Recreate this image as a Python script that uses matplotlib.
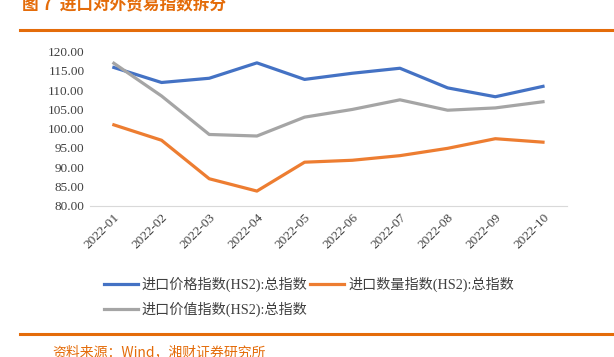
import matplotlib.pyplot as plt

months = ["2022-01", "2022-02", "2022-03", "2022-04", "2022-05",
          "2022-06", "2022-07", "2022-08", "2022-09", "2022-10"]
price_idx = [115.9, 112.0, 113.1, 117.1, 112.8, 114.4, 115.7, 110.6, 108.3, 111.0]
qty_idx = [101.0, 97.0, 87.0, 83.8, 91.3, 91.8, 93.0, 94.9, 97.4, 96.5]
value_idx = [117.0, 108.5, 98.5, 98.1, 103.0, 105.0, 107.5, 104.8, 105.4, 107.0]

labels = ["进口价格指数(HS2):总指数", "进口数量指数(HS2):总指数", "进口价值指数(HS2):总指数"]
colors = ["#4472C4", "#ED7D31", "#A5A5A5"]

cjk = ["Noto Sans CJK SC", "DejaVu Sans"]
serif = ["Liberation Serif", "Noto Sans CJK SC"]
orange = "#E46C0A"

fig = plt.figure(figsize=(6.14, 3.57), dpi=100)
ax = fig.add_axes([0.1466, 0.4238, 0.7766, 0.4314])

x = range(len(months))
l1, = ax.plot(x, price_idx, color=colors[0], lw=2.3, label=labels[0])
l2, = ax.plot(x, qty_idx, color=colors[1], lw=2.3, label=labels[1])
l3, = ax.plot(x, value_idx, color=colors[2], lw=2.3, label=labels[2])

ax.set_xlim(-0.5, 9.5)
ax.set_ylim(80, 120)
ax.set_yticks(range(80, 121, 5))
ax.set_yticklabels([f"{v:.2f}" for v in range(80, 121, 5)],
                   family="Liberation Serif", fontsize=9.5, color="#404040")
ax.set_xticks(list(x))
ax.set_xticklabels(months, rotation=45, ha="right", rotation_mode="anchor",
                   family="Liberation Serif", fontsize=9.5, color="#404040")
ax.tick_params(length=0, pad=4)
for s in ["top", "right", "left"]:
    ax.spines[s].set_visible(False)
ax.spines["bottom"].set_color("#D9D9D9")

# legend: row 1 price + quantity, row 2 value
leg = fig.legend([l1, l3, l2], [labels[0], labels[2], labels[1]], ncol=2,
                 loc="upper left", bbox_to_anchor=(0.148, 0.26),
                 frameon=False, handlelength=2.4, handletextpad=0.3,
                 columnspacing=0.2, labelspacing=0.7,
                 prop={"family": serif, "size": 10.2})
for t in leg.get_texts():
    t.set_color("#404040")

fig.text(0.036, 0.985, "图 7  进口对外贸易指数拆分", family=cjk, fontsize=12,
         fontweight="bold", color=orange, ha="left", va="center")
fig.add_artist(plt.Line2D([0.033, 1.0], [0.916, 0.916], color=orange, lw=2.2))
fig.add_artist(plt.Line2D([0.033, 1.0], [0.064, 0.064], color=orange, lw=2.2))
fig.text(0.086, 0.012, "资料来源：Wind，湘财证券研究所", family=cjk, fontsize=10,
         color=orange, ha="left", va="center")

fig.savefig("out.png", dpi=100)
